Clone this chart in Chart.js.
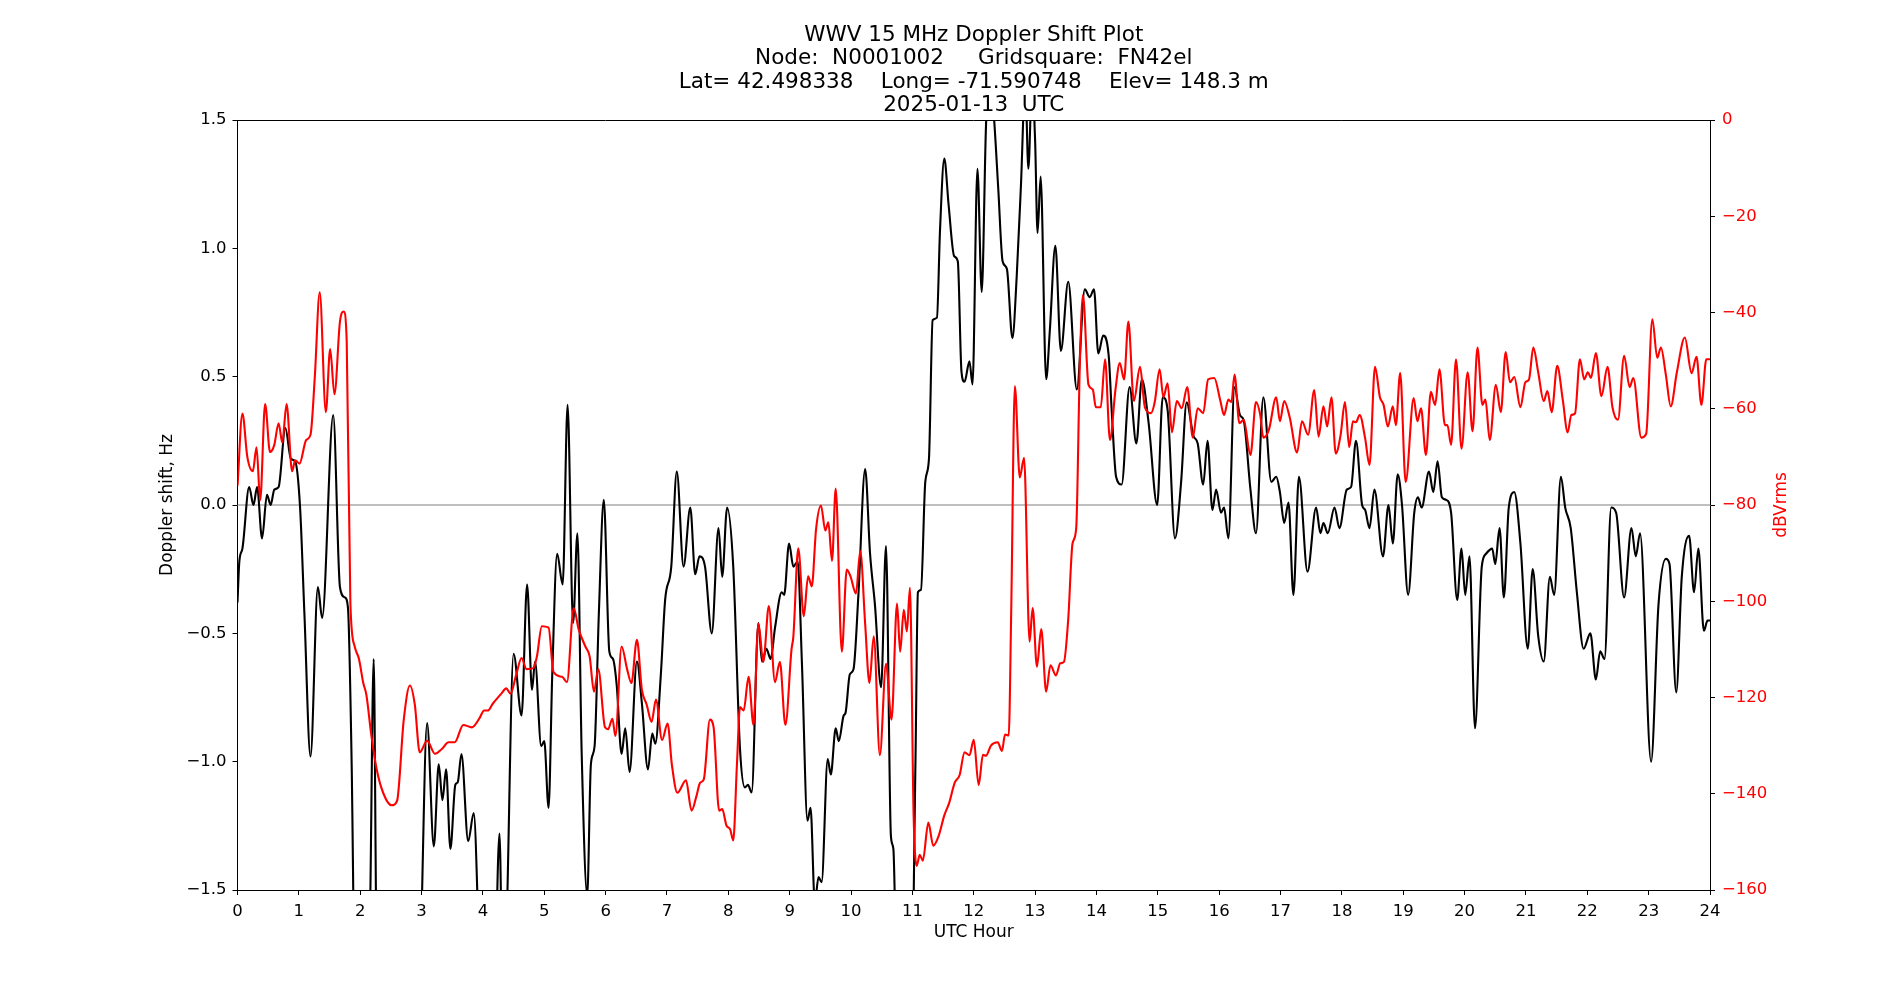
<!DOCTYPE html>
<html>
<head>
<meta charset="utf-8">
<script src="https://cdn.jsdelivr.net/npm/chart.js@4.4.1/dist/chart.umd.min.js"></script>
<style>
  body { margin: 0; background: #fff; }
  #wrap { width: 1900px; height: 1000px; }
</style>
</head>
<body>
<div id="wrap"><canvas id="doppler" width="1900" height="1000"></canvas></div>
<script>
// title lines
const titleLines = [
    'WWV 15 MHz Doppler Shift Plot',
    'Node:  N0001002     Gridsquare:  FN42el',
    'Lat= 42.498338    Long= -71.590748    Elev= 148.3 m',
    '2025-01-13  UTC'
];

// black trace: doppler shift (Hz) vs UTC hour
const shiftHours = [
    0.00, 0.03, 0.08, 0.19, 0.26, 0.32, 0.40, 0.48, 0.54, 0.60, 0.67, 0.78, 0.87, 0.94, 1.02, 1.09, 1.19, 1.31, 1.38, 1.56,
    1.67, 1.75, 1.80, 1.86, 1.92, 2.10, 2.16, 2.22, 2.26, 2.30, 2.95, 3.00, 3.09, 3.20, 3.28, 3.34, 3.40, 3.47, 3.55, 3.59,
    3.65, 3.76, 3.85, 3.92, 3.98, 4.18, 4.27, 4.33, 4.38, 4.50, 4.63, 4.72, 4.80, 4.85, 4.95, 5.00, 5.07, 5.13, 5.21, 5.30,
    5.38, 5.47, 5.54, 5.61, 5.70, 5.76, 5.82, 5.89, 5.97, 6.06, 6.12, 6.18, 6.26, 6.32, 6.39, 6.51, 6.59, 6.69, 6.76, 6.81,
    6.90, 6.97, 7.07, 7.16, 7.27, 7.38, 7.46, 7.53, 7.62, 7.73, 7.84, 7.90, 7.98, 8.08, 8.19, 8.27, 8.32, 8.38, 8.49, 8.55,
    8.62, 8.69, 8.76, 8.87, 8.91, 8.99, 9.06, 9.13, 9.20, 9.29, 9.34, 9.41, 9.47, 9.52, 9.62, 9.67, 9.75, 9.80, 9.88, 9.91,
    9.98, 10.04, 10.12, 10.23, 10.31, 10.39, 10.49, 10.57, 10.65, 10.69, 10.76, 10.98, 11.05, 11.09, 11.14, 11.21, 11.27, 11.33, 11.40, 11.45,
    11.52, 11.59, 11.68, 11.74, 11.80, 11.85, 11.93, 11.98, 12.06, 12.13, 12.20, 12.26, 12.33, 12.40, 12.47, 12.54, 12.63, 12.70, 12.77, 12.84,
    12.89, 12.95, 13.00, 13.04, 13.09, 13.18, 13.24, 13.33, 13.42, 13.54, 13.68, 13.81, 13.89, 13.96, 14.03, 14.11, 14.20, 14.25, 14.32, 14.41,
    14.54, 14.65, 14.74, 14.85, 14.99, 15.08, 15.16, 15.28, 15.38, 15.47, 15.58, 15.65, 15.74, 15.81, 15.89, 15.95, 16.03, 16.08, 16.15, 16.25,
    16.34, 16.40, 16.51, 16.60, 16.72, 16.85, 16.93, 16.99, 17.06, 17.13, 17.21, 17.30, 17.44, 17.58, 17.65, 17.70, 17.77, 17.88, 17.96, 18.08,
    18.15, 18.23, 18.33, 18.38, 18.45, 18.53, 18.67, 18.76, 18.83, 18.91, 18.98, 19.08, 19.18, 19.24, 19.30, 19.42, 19.49, 19.56, 19.63, 19.70,
    19.78, 19.88, 19.95, 20.01, 20.08, 20.17, 20.28, 20.35, 20.45, 20.50, 20.57, 20.64, 20.72, 20.81, 20.91, 21.03, 21.11, 21.20, 21.29, 21.39,
    21.46, 21.57, 21.64, 21.73, 21.83, 21.94, 22.05, 22.14, 22.21, 22.28, 22.39, 22.47, 22.60, 22.72, 22.79, 22.86, 23.04, 23.16, 23.28, 23.34,
    23.45, 23.54, 23.66, 23.74, 23.81, 23.90, 23.96, 24.00
];
const shiftHz = [
    -0.38, -0.22, -0.17, 0.07, 0.00, 0.07, -0.13, 0.04, 0.00, 0.06, 0.07, 0.30, 0.18, 0.17, -0.01, -0.42, -0.98, -0.32, -0.44, 0.35,
    -0.32, -0.36, -0.40, -1.00, -2.00, -2.20, -1.60, -0.60, -1.60, -2.20, -2.20, -1.60, -0.85, -1.33, -1.01, -1.15, -1.03, -1.34, -1.09, -1.08,
    -0.97, -1.31, -1.20, -1.60, -2.20, -2.00, -1.28, -2.00, -1.70, -0.58, -0.82, -0.31, -0.72, -0.61, -0.94, -0.92, -1.18, -0.66, -0.19, -0.31,
    0.39, -0.46, -0.11, -0.97, -1.52, -1.01, -0.94, -0.42, 0.02, -0.57, -0.60, -0.70, -0.97, -0.87, -1.04, -0.61, -0.77, -1.03, -0.89, -0.93,
    -0.66, -0.37, -0.24, 0.13, -0.24, -0.01, -0.27, -0.20, -0.24, -0.50, -0.09, -0.28, -0.01, -0.24, -0.95, -1.10, -1.09, -1.12, -0.46, -0.61,
    -0.56, -0.60, -0.48, -0.34, -0.35, -0.15, -0.24, -0.22, -0.62, -1.23, -1.18, -1.55, -1.45, -1.47, -0.99, -1.05, -0.87, -0.92, -0.82, -0.81,
    -0.66, -0.64, -0.35, 0.14, -0.19, -0.39, -0.71, -0.16, -1.29, -1.34, -2.00, -2.00, -1.00, -0.34, -0.33, 0.09, 0.18, 0.72, 0.73, 1.07,
    1.35, 1.17, 0.97, 0.95, 0.52, 0.48, 0.56, 0.47, 1.31, 0.83, 1.48, 1.70, 1.51, 1.23, 0.95, 0.92, 0.65, 0.89, 1.25, 1.65,
    1.31, 1.65, 1.42, 1.06, 1.28, 0.49, 0.68, 1.01, 0.60, 0.87, 0.45, 0.84, 0.81, 0.84, 0.59, 0.66, 0.58, 0.36, 0.11, 0.08,
    0.46, 0.24, 0.49, 0.32, 0.00, 0.42, 0.37, -0.13, 0.09, 0.40, 0.27, 0.24, 0.08, 0.25, -0.02, 0.06, -0.03, -0.01, -0.13, 0.46,
    0.35, 0.33, 0.06, -0.11, 0.42, 0.09, 0.11, 0.05, -0.07, 0.01, -0.35, 0.11, -0.26, -0.01, -0.11, -0.07, -0.11, -0.01, -0.09, 0.06,
    0.07, 0.25, 0.00, -0.02, -0.09, 0.06, -0.20, 0.00, -0.15, 0.12, 0.00, -0.35, -0.03, 0.03, -0.01, 0.13, 0.05, 0.17, 0.03, 0.02,
    -0.03, -0.37, -0.17, -0.35, -0.20, -0.87, -0.24, -0.19, -0.17, -0.23, -0.09, -0.36, -0.01, 0.05, -0.15, -0.56, -0.25, -0.51, -0.61, -0.28,
    -0.35, 0.11, -0.01, -0.09, -0.34, -0.56, -0.50, -0.68, -0.57, -0.60, -0.01, -0.03, -0.36, -0.09, -0.20, -0.11, -1.00, -0.39, -0.21, -0.23,
    -0.73, -0.28, -0.12, -0.34, -0.17, -0.49, -0.45, -0.45
];

// red trace: received power (dBVrms) vs UTC hour
const powerHours = [
    0.00, 0.08, 0.16, 0.25, 0.31, 0.37, 0.45, 0.53, 0.60, 0.67, 0.73, 0.80, 0.89, 0.94, 1.01, 1.12, 1.19, 1.26, 1.34, 1.44,
    1.51, 1.58, 1.67, 1.73, 1.78, 1.84, 1.91, 1.98, 2.05, 2.10, 2.18, 2.27, 2.38, 2.51, 2.60, 2.71, 2.81, 2.89, 2.97, 3.09,
    3.22, 3.33, 3.44, 3.54, 3.68, 3.82, 3.94, 4.02, 4.08, 4.16, 4.30, 4.38, 4.45, 4.54, 4.63, 4.71, 4.82, 4.88, 4.96, 5.07,
    5.15, 5.29, 5.37, 5.48, 5.56, 5.67, 5.74, 5.81, 5.88, 5.99, 6.04, 6.11, 6.16, 6.26, 6.35, 6.42, 6.51, 6.59, 6.67, 6.75,
    6.82, 6.92, 7.01, 7.08, 7.17, 7.31, 7.40, 7.48, 7.54, 7.60, 7.70, 7.76, 7.85, 7.90, 7.97, 8.03, 8.08, 8.14, 8.19, 8.25,
    8.33, 8.41, 8.49, 8.57, 8.66, 8.76, 8.84, 8.93, 9.03, 9.06, 9.14, 9.23, 9.30, 9.36, 9.43, 9.51, 9.58, 9.63, 9.69, 9.75,
    9.85, 9.93, 9.99, 10.08, 10.15, 10.23, 10.30, 10.37, 10.47, 10.57, 10.66, 10.75, 10.80, 10.86, 10.91, 10.96, 11.02, 11.07, 11.12, 11.17,
    11.26, 11.34, 11.43, 11.52, 11.60, 11.69, 11.77, 11.85, 11.93, 12.00, 12.08, 12.15, 12.20, 12.28, 12.39, 12.46, 12.51, 12.57, 12.61, 12.67,
    12.75, 12.82, 12.91, 12.96, 13.03, 13.10, 13.18, 13.25, 13.34, 13.41, 13.47, 13.54, 13.61, 13.67, 13.73, 13.78, 13.87, 13.94, 13.99, 14.07,
    14.14, 14.22, 14.31, 14.38, 14.45, 14.52, 14.61, 14.71, 14.79, 14.89, 14.95, 15.03, 15.09, 15.16, 15.23, 15.31, 15.39, 15.48, 15.57, 15.65,
    15.74, 15.82, 15.92, 16.02, 16.08, 16.15, 16.20, 16.25, 16.33, 16.40, 16.51, 16.60, 16.67, 16.72, 16.81, 16.93, 16.99, 17.06, 17.15, 17.27,
    17.35, 17.45, 17.55, 17.62, 17.70, 17.76, 17.83, 17.90, 17.98, 18.05, 18.12, 18.18, 18.23, 18.29, 18.38, 18.45, 18.54, 18.62, 18.68, 18.75,
    18.83, 18.88, 18.95, 19.04, 19.17, 19.23, 19.29, 19.37, 19.45, 19.52, 19.59, 19.68, 19.72, 19.78, 19.86, 19.95, 20.05, 20.13, 20.21, 20.29,
    20.34, 20.41, 20.51, 20.59, 20.67, 20.74, 20.81, 20.91, 20.99, 21.05, 21.12, 21.20, 21.29, 21.35, 21.42, 21.51, 21.60, 21.68, 21.74, 21.80,
    21.88, 21.95, 22.01, 22.06, 22.14, 22.23, 22.33, 22.41, 22.50, 22.60, 22.69, 22.75, 22.88, 22.96, 23.06, 23.14, 23.20, 23.28, 23.36, 23.46,
    23.59, 23.70, 23.78, 23.86, 23.94, 24.00
];
const powerDb = [
    -76, -61, -70, -73, -68, -79, -59, -69, -67.5, -63, -67, -59, -73, -70.7, -71.4, -66.5, -65.4, -53.4, -35.8, -60.7,
    -47.6, -57, -41.9, -39.8, -46, -100.5, -109.4, -112, -117, -119.4, -127.7, -135, -140, -142.4, -141.5, -124.6, -117.5, -121.5, -131.4, -129,
    -131.7, -130.7, -129.3, -129.3, -125.7, -126.2, -124.4, -122.7, -122.7, -121.3, -119.2, -118.1, -119.2, -115.4, -111.8, -114.1, -113.9, -111.5, -105.2, -105.5,
    -114.7, -115.7, -116.8, -101.4, -105.8, -109.4, -111.5, -118.8, -114.1, -126.2, -126.6, -124.4, -128, -109.4, -114.1, -117, -108, -118.3, -121.5, -125.1,
    -120.4, -128.8, -125.4, -134, -139.8, -137.2, -143.5, -140.5, -137.7, -137, -124.6, -126.2, -143.5, -143.2, -146.6, -147.4, -149.7, -134, -122, -122.7,
    -115.7, -125.7, -104.7, -112.6, -101, -116.8, -112.6, -125.7, -110, -107.3, -89, -103.1, -94.8, -96.9, -85, -80.1, -85.3, -83.6, -91.6, -76.6,
    -110.5, -93.4, -94.8, -98.4, -89.5, -104.7, -117, -107.3, -132, -113, -124.6, -100.5, -110.5, -101.8, -106.3, -97.2, -144.5, -155, -152.7, -153.9,
    -146, -150.8, -148.7, -144.5, -141.9, -137.7, -136.1, -131.4, -132, -128.8, -138.2, -131.9, -132.1, -130, -129.3, -131.1, -127.7, -127.9, -102.6, -55.3,
    -74.3, -70.2, -108.4, -101.4, -113.6, -105.8, -118.8, -113.3, -115.4, -112.9, -112.6, -103.7, -88, -84.8, -50.3, -36.4, -55, -56, -59.7, -59.7,
    -49.7, -66.5, -56, -50.5, -53.9, -41.9, -58.4, -51.3, -59.7, -60.9, -58.6, -51.8, -57.6, -54.7, -64.9, -58.4, -59.9, -55.5, -66, -59.9,
    -60.9, -53.9, -53.6, -58.4, -61.3, -58.1, -58.6, -52.9, -63, -62.3, -69.6, -58.6, -61.3, -66, -64.4, -57.6, -62.6, -58.4, -61.8, -69.1,
    -62.6, -65.4, -56.1, -65.8, -59.5, -63.7, -57.6, -69.3, -65.4, -58.6, -68, -62.6, -62.8, -61.3, -66.2, -71.7, -51.3, -57.6, -59.2, -63.7,
    -59.5, -63.4, -52.6, -75.2, -57.8, -62.6, -59.9, -69.6, -56.5, -59.2, -51.8, -63.4, -63.4, -67.5, -49.7, -68.3, -52.4, -64.7, -47.3, -59.2,
    -58.1, -66.5, -55, -60.7, -48.2, -54.5, -53.4, -59.7, -54.5, -53.9, -47.3, -52.4, -58.4, -56.3, -60.7, -51.1, -58.1, -64.9, -61.3, -61,
    -49.7, -53.9, -52.4, -53.6, -48.4, -57.4, -51.3, -59.7, -62.3, -49, -55.5, -53.6, -66, -65.2, -41.4, -49.4, -47.3, -52.9, -59.5, -52.4,
    -45.2, -52.6, -49.2, -59.2, -49.7, -49.7
];

const FONT = 'DejaVu Sans';
const minus = s => String(s).replace('-', '\u2212');

// title, axis labels and top spine, drawn around the chart area
const frameText = {
    id: 'frameText',
    afterDraw(chart) {
        const { ctx, chartArea: a } = chart;
        const cx = (a.left + a.right) / 2;
        ctx.save();
        ctx.strokeStyle = '#000';
        ctx.lineWidth = 1;
        ctx.beginPath();
        ctx.moveTo(a.left, a.top + 0.5);
        ctx.lineTo(a.right, a.top + 0.5);
        ctx.stroke();

        ctx.fillStyle = '#000';
        ctx.textAlign = 'center';
        ctx.textBaseline = 'middle';
        ctx.font = '21.5px "' + FONT + '"';
        titleLines.forEach((t, i) => ctx.fillText(t, cx, 35.5 + i * 23.3));

        ctx.font = '17px "' + FONT + '"';
        ctx.fillText('UTC Hour', cx, 933);

        ctx.translate(167.5, (a.top + a.bottom) / 2);
        ctx.rotate(-Math.PI / 2);
        ctx.fillText('Doppler shift, Hz', 0, 0);
        ctx.restore();

        ctx.save();
        ctx.font = '17px "' + FONT + '"';
        ctx.fillStyle = '#ff0000';
        ctx.textAlign = 'center';
        ctx.textBaseline = 'middle';
        ctx.translate(1782, (a.top + a.bottom) / 2);
        ctx.rotate(-Math.PI / 2);
        ctx.fillText('dBVrms', 0, 0);
        ctx.restore();
    }
};

const shiftPts = shiftHours.map((h, i) => ({ x: h, y: shiftHz[i] }));
const powerPts = powerHours.map((h, i) => ({ x: h, y: powerDb[i] }));

new Chart(document.getElementById('doppler'), {
    type: 'line',
    data: {
        datasets: [
            {
                label: 'dBVrms',
                data: powerPts,
                yAxisID: 'yPow',
                borderColor: '#ff0000',
                borderWidth: 2.1,
                pointRadius: 0,
                cubicInterpolationMode: 'monotone',
                clip: 0,
                order: 0
            },
            {
                label: 'Doppler shift',
                data: shiftPts,
                yAxisID: 'yDop',
                borderColor: '#000000',
                borderWidth: 2.1,
                pointRadius: 0,
                cubicInterpolationMode: 'monotone',
                clip: 0,
                order: 1
            },
            {
                label: 'zero',
                data: [{ x: 0, y: 0 }, { x: 24, y: 0 }],
                yAxisID: 'yDop',
                borderColor: '#808080',
                borderWidth: 1.1,
                pointRadius: 0,
                clip: 0,
                order: 2
            }
        ]
    },
    options: {
        responsive: false,
        animation: false,
        events: [],
        layout: { padding: { top: 120 } },
        plugins: { legend: { display: false }, title: { display: false }, tooltip: { enabled: false } },
        scales: {
            x: {
                type: 'linear',
                min: 0,
                max: 24,
                afterFit: s => { s.height = 110; },
                ticks: { stepSize: 1, color: '#000', padding: 7, maxRotation: 0, font: { family: FONT, size: 16.5 } },
                grid: { drawOnChartArea: false, tickLength: 5, color: '#000' },
                border: { color: '#000', width: 1 }
            },
            yDop: {
                position: 'left',
                min: -1.5,
                max: 1.5,
                afterFit: s => { s.width = 237.5; },
                ticks: {
                    stepSize: 0.5,
                    color: '#000',
                    padding: 6,
                    font: { family: FONT, size: 16.5 },
                    callback: v => minus(v.toFixed(1))
                },
                grid: { drawOnChartArea: false, tickLength: 5, color: '#000' },
                border: { color: '#000', width: 1 }
            },
            yPow: {
                position: 'right',
                min: -160,
                max: 0,
                afterFit: s => { s.width = 190; },
                ticks: {
                    stepSize: 20,
                    color: '#ff0000',
                    padding: 7,
                    font: { family: FONT, size: 16.5 },
                    callback: v => minus(v)
                },
                grid: { drawOnChartArea: false, tickLength: 5, color: '#000' },
                border: { color: '#000', width: 1 }
            }
        }
    },
    plugins: [frameText]
});
</script>
</body>
</html>
